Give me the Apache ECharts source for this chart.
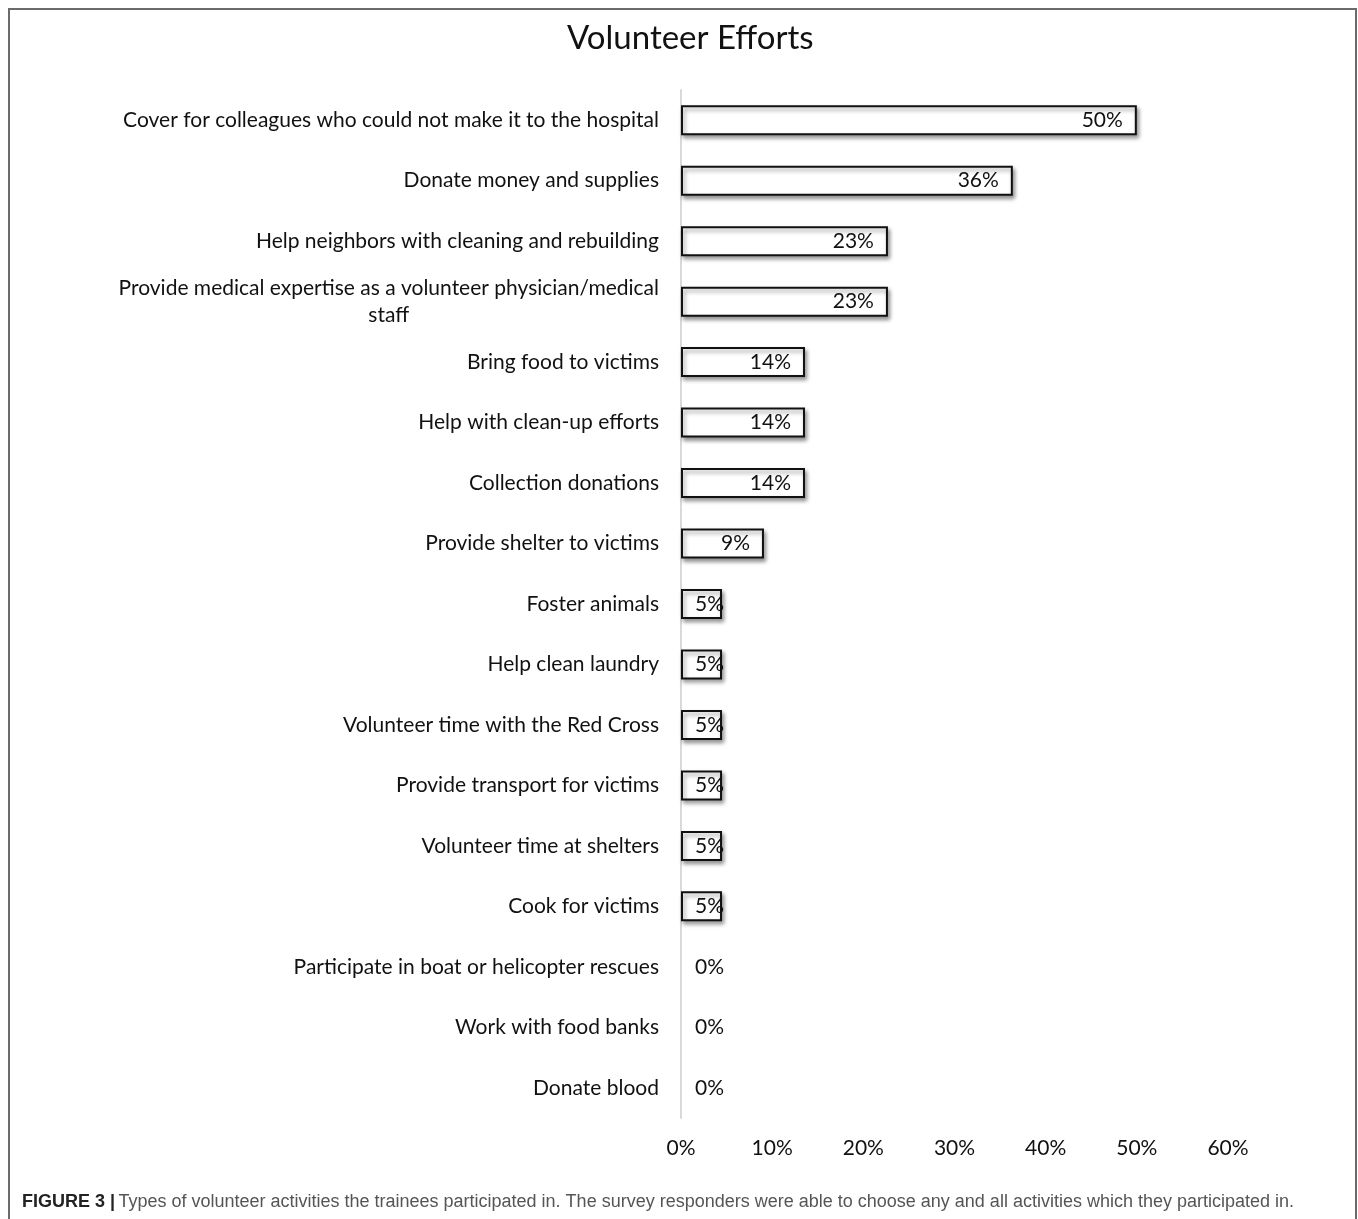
<!DOCTYPE html>
<html>
<head>
<meta charset="utf-8">
<script src="https://cdn.jsdelivr.net/npm/echarts@6/dist/echarts.min.js"></script>
<style>
  html, body { margin: 0; padding: 0; background: #fff; }
  #frame {
    position: absolute; left: 8px; top: 8px; width: 1345px; height: 1300px;
    border: 2px solid #6b6b6b; border-bottom: none;
  }
  #chart { position: absolute; left: 0; top: 0; width: 1358px; height: 1219px; }
</style>
</head>
<body>
<div id="frame"></div>
<div id="chart"></div>
<script>
// Volunteer activities, in display order (top to bottom)
const categories = [
  'Cover for colleagues who could not make it to the hospital',
  'Donate money and supplies',
  'Help neighbors with cleaning and rebuilding',
  'Provide medical expertise as a volunteer physician/medical\nstaff',
  'Bring food to victims',
  'Help with clean-up efforts',
  'Collection donations',
  'Provide shelter to victims',
  'Foster animals',
  'Help clean laundry',
  'Volunteer time with the Red Cross',
  'Provide transport for victims',
  'Volunteer time at shelters',
  'Cook for victims',
  'Participate in boat or helicopter rescues',
  'Work with food banks',
  'Donate blood'
];

// Share of trainees taking part in each activity (%)
const percentages = [50.0, 36.4, 22.7, 22.7, 13.6, 13.6, 13.6, 9.1, 4.5, 4.5, 4.5, 4.5, 4.5, 4.5, 0, 0, 0];

// Value axis ticks (%)
const xTicks = [0, 10, 20, 30, 40, 50, 60];

const labelFont = 'Lato, "Open Sans", sans-serif';

const chart = echarts.init(document.getElementById('chart'));

const barData = percentages.map(function (v) {
  const item = { value: v };
  if (v === 0) {
    item.label = { position: 'right', distance: 14 };
    item.itemStyle = { borderWidth: 0, shadowBlur: 0, shadowOffsetX: 0, shadowOffsetY: 0, shadowColor: 'transparent' };
  } else if (v < 6) {
    item.label = { position: 'insideLeft', distance: 14 };
  } else {
    item.label = { position: 'insideRight', distance: 14 };
  }
  return item;
});

// Wrapped category names: continuation lines are centred under the first line
function categoryLabel(name) {
  const lines = name.split('\n');
  if (lines.length === 1) return name;
  return lines.map(function (l, i) { return (i === 0 ? '{r|' : '{c|') + l + '}'; }).join('\n');
}

const catTextStyle = { fontFamily: labelFont, fontSize: 21, color: '#111', lineHeight: 27 };

chart.setOption({
  animation: false,
  backgroundColor: 'transparent',
  title: {
    text: 'Volunteer Efforts',
    left: 562,
    top: 17,
    textStyle: { fontFamily: labelFont, fontSize: 33, fontWeight: 'normal', color: '#111' }
  },
  grid: { left: 681, right: 130, top: 90, bottom: 101, containLabel: false },
  xAxis: {
    type: 'value',
    min: xTicks[0],
    max: xTicks[xTicks.length - 1],
    interval: 10,
    axisLine: { show: false },
    axisTick: { show: false },
    splitLine: { show: false },
    axisLabel: {
      formatter: '{value}%',
      margin: 20,
      fontFamily: labelFont, fontSize: 21, color: '#111'
    }
  },
  yAxis: {
    type: 'category',
    inverse: true,
    data: categories,
    axisLine: { show: true, lineStyle: { color: '#d9d9d9', width: 2 } },
    axisTick: { show: false },
    axisLabel: {
      margin: 22,
      align: 'right',
      lineHeight: 27,
      fontFamily: labelFont, fontSize: 21, color: '#111',
      interval: 0,
      formatter: categoryLabel,
      rich: {
        r: Object.assign({ align: 'right' }, catTextStyle),
        c: Object.assign({ align: 'center' }, catTextStyle)
      }
    }
  },
  series: [{
    type: 'bar',
    data: barData,
    barWidth: 30,
    itemStyle: {
      color: '#ffffff',
      borderColor: '#111',
      borderWidth: 2,
      shadowColor: 'rgba(0,0,0,0.4)',
      shadowBlur: 4,
      shadowOffsetX: 2,
      shadowOffsetY: 3
    },
    label: {
      show: true,
      formatter: function (p) { return Math.round(p.value) + '%'; },
      fontFamily: labelFont, fontSize: 21, color: '#111'
    }
  }],
  graphic: [{
    type: 'text',
    left: 22,
    top: 1193,
    style: {
      text: '{b|FIGURE 3 |} {n|Types of volunteer activities the trainees participated in. The survey responders were able to choose any and all activities which they participated in.}',
      rich: {
        b: { fontFamily: '"Liberation Sans Narrow", "Liberation Sans", Arial, sans-serif', fontWeight: 'bold', fontSize: 18, fill: '#222' },
        n: { fontFamily: '"Liberation Sans Narrow", "Liberation Sans", Arial, sans-serif', fontSize: 18, fill: '#555' }
      }
    }
  }]
});
</script>
</body>
</html>
